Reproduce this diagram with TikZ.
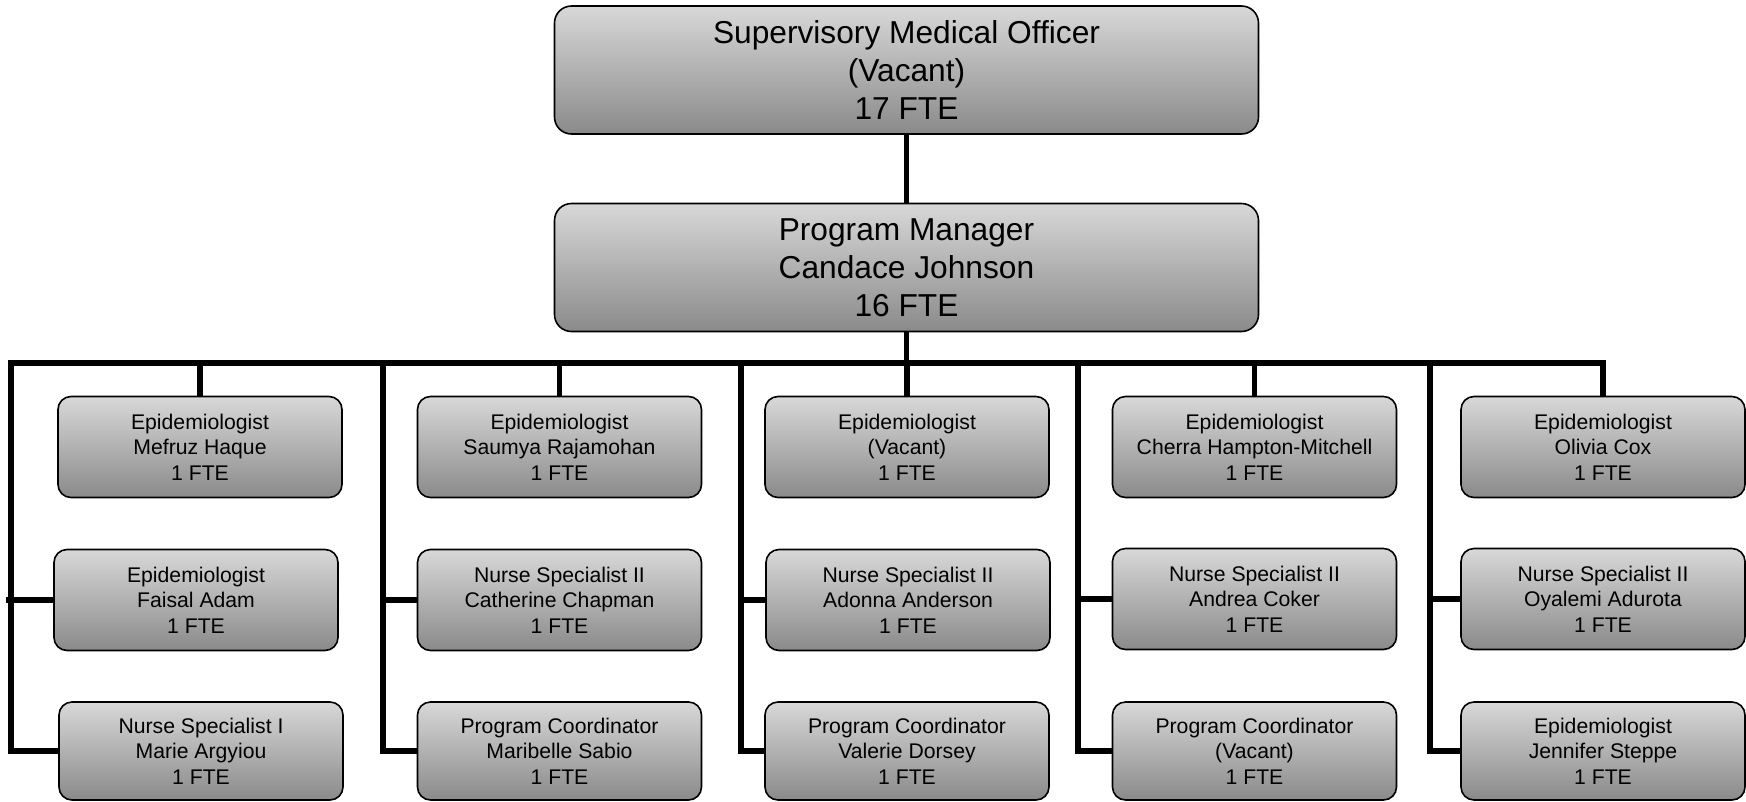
\documentclass[tikz,border=0pt]{standalone}
\usepackage{fontspec}
\setmainfont{Liberation Sans}
\begin{document}
\begin{tikzpicture}[x=1pt,y=-1pt,
  box/.style={draw=black, line width=1.6pt, top color=boxtop, bottom color=boxbot,
    align=center, inner sep=0pt},
  bigbox/.style={box, minimum width=704pt, minimum height=128pt, rounded corners=17pt,
    font=\fontsize{31.7}{38}\selectfont},
  staff/.style={box, minimum width=284pt, minimum height=101pt, rounded corners=13pt,
    font=\fontsize{21.2}{25.5}\selectfont},
  low/.style={staff, minimum height=98pt},
  conn/.style={draw=black, line width=5.7pt, line join=miter}]
\definecolor{boxtop}{RGB}{216,216,216}
\definecolor{boxbot}{RGB}{138,138,138}
\useasboundingbox (0,0) rectangle (1746,801);

% management boxes
\node[bigbox] (smo) at (906.5,70) {Supervisory Medical Officer\\(Vacant)\\17 FTE};
\node[bigbox] (pm) at (906.5,267.5) {Program Manager\\Candace Johnson\\16 FTE};

% column 1
\node[staff] (a1) at (200,447) {Epidemiologist\\Mefruz Haque\\1 FTE};
\node[staff] (a2) at (196,600) {Epidemiologist\\Faisal Adam\\1 FTE};
\node[low]   (a3) at (201,751) {Nurse Specialist I\\Marie Argyiou\\1 FTE};
% column 2
\node[staff] (b1) at (559.5,447) {Epidemiologist\\Saumya Rajamohan\\1 FTE};
\node[staff] (b2) at (559.5,600) {Nurse Specialist II\\Catherine Chapman\\1 FTE};
\node[low]   (b3) at (559.5,751) {Program Coordinator\\Maribelle Sabio\\1 FTE};
% column 3
\node[staff] (c1) at (907,447) {Epidemiologist\\(Vacant)\\1 FTE};
\node[staff] (c2) at (908,600) {Nurse Specialist II\\Adonna Anderson\\1 FTE};
\node[low]   (c3) at (907,751) {Program Coordinator\\Valerie Dorsey\\1 FTE};
% column 4
\node[staff] (d1) at (1254.5,447) {Epidemiologist\\Cherra Hampton-Mitchell\\1 FTE};
\node[staff] (d2) at (1254.5,599) {Nurse Specialist II\\Andrea Coker\\1 FTE};
\node[low]   (d3) at (1254.5,751) {Program Coordinator\\(Vacant)\\1 FTE};
% column 5
\node[staff] (e1) at (1603,447) {Epidemiologist\\Olivia Cox\\1 FTE};
\node[staff] (e2) at (1603,599) {Nurse Specialist II\\Oyalemi Adurota\\1 FTE};
\node[low]   (e3) at (1603,751) {Epidemiologist\\Jennifer Steppe\\1 FTE};

% branch points on the horizontal bus
\coordinate (ta) at (11,363);
\coordinate (tb) at (383,363);
\coordinate (tc) at (741,363);
\coordinate (td) at (1078,363);
\coordinate (te) at (1430,363);

% reporting lines
\draw[conn] (smo.south) -- (pm.north);
\draw[conn] (pm.south) -- (pm.south |- ta);
\draw[conn] (a3.west) -| (ta) -- (ta -| e1.north) -- (e1.north);
\draw[conn] (a1.north) -- (a1.north |- ta);
\draw[conn] (b1.north) -- (b1.north |- ta);
\draw[conn] (c1.north) -- (c1.north |- ta);
\draw[conn] (d1.north) -- (d1.north |- ta);
\draw[conn] (a2.west) -- ([xshift=-5pt]a2.west -| ta);
\draw[conn] (tb) |- (b3.west);
\draw[conn] (b2.west) -- (b2.west -| tb);
\draw[conn] (tc) |- (c3.west);
\draw[conn] (c2.west) -- (c2.west -| tc);
\draw[conn] (td) |- (d3.west);
\draw[conn] (d2.west) -- (d2.west -| td);
\draw[conn] (te) |- (e3.west);
\draw[conn] (e2.west) -- (e2.west -| te);
\end{tikzpicture}
\end{document}
